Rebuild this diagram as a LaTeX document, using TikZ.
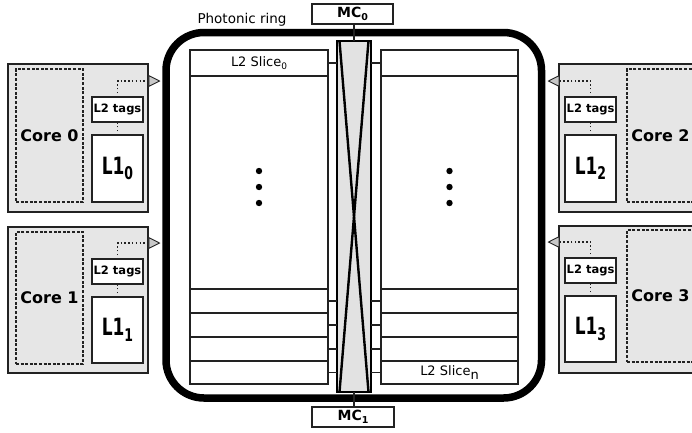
\documentclass[tikz,border=0pt]{standalone}
\usepackage{fontspec}
\setmainfont{DejaVu Sans}
\usetikzlibrary{arrows.meta}
\definecolor{coregray}{HTML}{E6E6E6}
\definecolor{boxgray}{HTML}{E2E2E2}
\definecolor{arrowgray}{HTML}{C8C8C8}
\definecolor{linec}{HTML}{222222}
\begin{document}
\begin{tikzpicture}[x=1pt,y=-1pt,
  box/.style={draw=linec, line width=1.2pt, fill=white, inner sep=0pt, outer sep=0pt},
  lcell/.style={box, minimum width=138pt},
  rcell/.style={box, minimum width=137pt},
  slicetext/.style={font=\fontsize{13}{13}\selectfont},
  stub/.style={draw=linec, line width=1.2pt},
  corebox/.style={draw=linec, line width=1.5pt, fill=coregray, inner sep=0pt, outer sep=0pt},
  coredash/.style={draw=linec, line width=1.2pt, dash pattern=on 3pt off 1.6pt, inner sep=0pt, outer sep=0pt, font=\fontsize{16}{16}\selectfont\bfseries},
  tagbox/.style={box, line width=1.4pt, minimum width=51pt, minimum height=25pt, font=\fontsize{11.5}{11.5}\selectfont\bfseries},
  lonebox/.style={box, line width=1.4pt, minimum width=51pt, minimum height=67pt},
  mcbox/.style={box, line width=1.4pt, minimum height=20pt, font=\fontsize{14}{14}\selectfont\bfseries},
  dotline/.style={draw=linec, line width=1.5pt, dash pattern=on 1.5pt off 2.3pt},
  ringarrow/.style={-{Triangle[length=12pt,width=12pt,fill=arrowgray,line width=0.9pt]}},
  xline/.style={draw=black, line width=2.4pt},
  vdot/.style={fill=black}
]
\useasboundingbox (0,0) rectangle (692,432);
\clip (0,0) rectangle (692,432);
\newcommand{\lone}[1]{\scalebox{1}[1.4]{\fontsize{17}{17}\selectfont\bfseries L1\raisebox{-4pt}{\fontsize{12.5}{12.5}\selectfont #1}}}

% photonic ring
\node[draw=black, line width=7.5pt, rounded corners=38pt, minimum width=375.5pt, minimum height=365.5pt, inner sep=0pt] (ring) at (353.75,215.25) {};
\node[font=\fontsize{13.5}{13.5}\selectfont, inner sep=0pt] (ringlabel) at (242,20) {Photonic ring};

% central crossbar
\node[draw=black, line width=2.2pt, fill=boxgray, minimum width=34pt, minimum height=351pt, inner sep=0pt, outer sep=0pt] (cbox) at (354,216.5) {};
\draw[xline] ([xshift=2.5pt]cbox.north west) -- ([xshift=-2.5pt]cbox.south east);
\draw[xline] ([xshift=-2.5pt]cbox.north east) -- ([xshift=2.5pt]cbox.south west);

% memory controllers
\node[mcbox, minimum width=81pt] (mc0) at (352.5,14) {MC\raisebox{-2.5pt}{\fontsize{9.5}{9.5}\selectfont 0}};
\node[mcbox, minimum width=82pt] (mc1) at (353,417) {MC\raisebox{-2.5pt}{\fontsize{9.5}{9.5}\selectfont 1}};
\draw[stub] (mc0.south -| cbox.north) -- (cbox.north);
\draw[stub] (cbox.south) -- (mc1.north -| cbox.south);

% left L2 column
\node[lcell, minimum height=26pt, slicetext] (ls0) at (259,63) {L2 Slice\raisebox{-3pt}{\fontsize{9}{9}\selectfont 0}};
\node[lcell, minimum height=213pt] (lbig) at (259,182.5) {};
\node[lcell, minimum height=24pt] (lr1) at (259,301) {};
\node[lcell, minimum height=24pt] (lr2) at (259,325) {};
\node[lcell, minimum height=24pt] (lr3) at (259,349) {};
\node[lcell, minimum height=23pt] (lr4) at (259,372.5) {};
% right L2 column
\node[rcell, minimum height=26pt] (rs0) at (449.5,63) {};
\node[rcell, minimum height=213pt] (rbig) at (449.5,182.5) {};
\node[rcell, minimum height=24pt] (rr1) at (449.5,301) {};
\node[rcell, minimum height=24pt] (rr2) at (449.5,325) {};
\node[rcell, minimum height=24pt] (rr3) at (449.5,349) {};
\node[rcell, minimum height=23pt, slicetext] (rr4) at (449.5,372.5) {L2 Slice\raisebox{-3.5pt}{n}};

% stubs
\foreach \c in {ls0,lr1,lr2,lr3,lr4} {\draw[stub] (\c.east) -- (cbox.west |- \c.east);}
\foreach \c in {rs0,rr1,rr2,rr3,rr4} {\draw[stub] (\c.west) -- (cbox.east |- \c.west);}

% vertical dots
\foreach \yy in {171,187,203} {
  \fill[vdot] (259,\yy) circle (3.2pt);
  \fill[vdot] (449.5,\yy) circle (3.2pt);
}

% ---- Core 0 ----
\node[corebox, minimum width=140pt, minimum height=148pt] (c0) at (78,138) {};
\node[coredash, minimum width=67pt, minimum height=133pt] (c0d) at (49.5,135.5) {Core 0};
\node[lonebox] (l0) at (117.5,168.5) {\lone{0}};
\coordinate (a0) at (160.5,81);
\draw[dotline, ringarrow] (l0.north) -- (l0.north |- a0) -- (a0);
\node[tagbox] (t0) at (117.5,109.5) {L2 tags};

% ---- Core 1 ----
\node[corebox, minimum width=140pt, minimum height=146pt] (c1) at (78,300) {};
\node[coredash, minimum width=67pt, minimum height=132pt] (c1d) at (49.5,298) {Core 1};
\node[lonebox, minimum height=66pt] (l1) at (117.5,330) {\lone{1}};
\coordinate (a1) at (160.5,243);
\draw[dotline, ringarrow] (l1.north) -- (l1.north |- a1) -- (a1);
\node[tagbox] (t1) at (117.5,271.5) {L2 tags};

% ---- Core 2 ----
\node[corebox, minimum width=140pt, minimum height=148pt] (c2) at (629,138) {};
\node[coredash, minimum width=67pt, minimum height=133pt] (c2d) at (660.5,135.5) {Core 2};
\node[lonebox] (l2) at (590.5,168.5) {\lone{2}};
\coordinate (a2) at (547.5,81);
\draw[dotline, ringarrow] (l2.north) -- (l2.north |- a2) -- (a2);
\node[tagbox] (t2) at (590.5,109.5) {L2 tags};

% ---- Core 3 ----
\node[corebox, minimum width=140pt, minimum height=147pt] (c3) at (629,299.5) {};
\node[coredash, minimum width=67pt, minimum height=132pt] (c3d) at (660.5,296) {Core 3};
\node[lonebox, minimum height=66pt] (l3) at (590.5,329) {\lone{3}};
\coordinate (a3) at (547.5,242);
\draw[dotline, ringarrow] (l3.north) -- (l3.north |- a3) -- (a3);
\node[tagbox] (t3) at (590.5,270.5) {L2 tags};
\end{tikzpicture}
\end{document}
